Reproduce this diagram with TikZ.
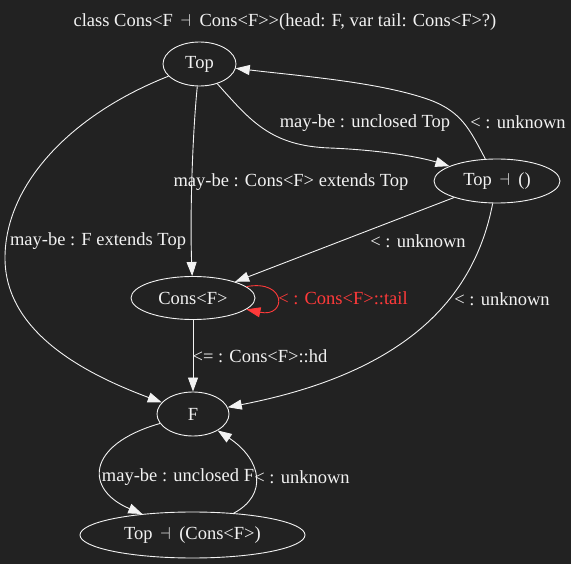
\documentclass[tikz,border=0pt]{standalone}
\usepackage{fontspec}
\setmainfont{Liberation Serif}
\usetikzlibrary{shapes.geometric,arrows.meta}
\definecolor{bg}{HTML}{222222}
\definecolor{fg}{HTML}{F2F2F2}
\definecolor{redish}{HTML}{FF3A3A}
\newcommand{\dsh}{\hspace{7.5pt}{\fontsize{16}{16}\selectfont$\dashv$}\hspace{8.5pt}}
\newcommand{\fs}{\fontsize{18.5}{20}\selectfont}
\tikzset{
  nodebox/.style={draw=fg, line width=0.9pt, ellipse, inner sep=0pt, text=fg, font=\fs},
  edgeline/.style={draw=fg, line width=0.9pt, -{Triangle[length=14pt,width=10pt]}},
  redline/.style={draw=redish, line width=0.9pt, -{Triangle[length=14pt,width=10pt]}},
  lbl/.style={text=fg, inner sep=0pt, font=\fs},
  redlbl/.style={text=redish, inner sep=0pt, font=\fs}
}
\begin{document}
\begin{tikzpicture}[x=1pt,y=-1pt]
\fill[bg] (0,0) rectangle (571,564);
\useasboundingbox (0,0) rectangle (571,564);

\node[lbl] (title) at (285,22) {class Cons<F\dsh Cons<F>{}>(head: F, var tail: Cons<F>?)};

\node[nodebox, minimum width=73pt, minimum height=44pt] (top) at (199.5,64) {Top};
\node[nodebox, minimum width=126pt, minimum height=44pt] (topu) at (497,181) {Top\dsh ()};
\node[nodebox, minimum width=124pt, minimum height=43pt] (cons) at (193,298) {Cons<F>};
\node[nodebox, minimum width=72pt, minimum height=44pt] (f) at (193,414) {F};
\node[nodebox, minimum width=225pt, minimum height=46pt] (topc) at (192.5,535) {Top\dsh (Cons<F>)};

% Top -> F
\draw[edgeline] (top) .. controls (70,115) and (5,185) .. (5,258) .. controls (5,330) and (80,372) .. (f);
\node[lbl] (l1) at (98,241) {may-be : F extends Top};
% Top -> Cons
\draw[edgeline] (top) .. controls (192,140) and (190,220) .. (cons);
\node[lbl] (l2) at (291,182) {may-be : Cons<F> extends Top};
% Top -> Top -| ()
\draw[edgeline] (top) .. controls (250,120) and (270,146) .. (330,148) .. controls (380,150) and (420,157) .. (topu);
\node[lbl] (l3) at (365,123) {may-be : unclosed Top};
% Top -| () -> Top
\draw[edgeline] (topu) .. controls (470,130) and (462,112) .. (430,100) .. controls (380,82) and (300,76) .. (top);
\node[lbl] (l4) at (518,122) {< : unknown};
% Top -| () -> Cons
\draw[edgeline] (topu) -- (cons);
\node[lbl] (l5) at (418,241) {< : unknown};
% Top -| () -> F
\draw[edgeline] (topu) .. controls (475,295) and (410,372) .. (f);
\node[lbl] (l6) at (502,299) {< : unknown};
% Cons self loop
\draw[redline] (cons.12) .. controls (287,279) and (287,318) .. (cons.-12);
\node[redlbl] (l7) at (343,298) {< : Cons<F>::tail};
% Cons -> F
\draw[edgeline] (cons) -- (f);
\node[lbl] (l8) at (260,356) {<= : Cons<F>::hd};
% F -> Top -| (Cons)
\draw[edgeline] (f) .. controls (85,445) and (85,490) .. (topc);
\node[lbl] (l9) at (178,477) {may-be : unclosed F};
% Top -| (Cons) -> F
\draw[edgeline] (topc) .. controls (268,495) and (262,460) .. (f);
\node[lbl] (l10) at (302,477) {< : unknown};
\end{tikzpicture}
\end{document}
